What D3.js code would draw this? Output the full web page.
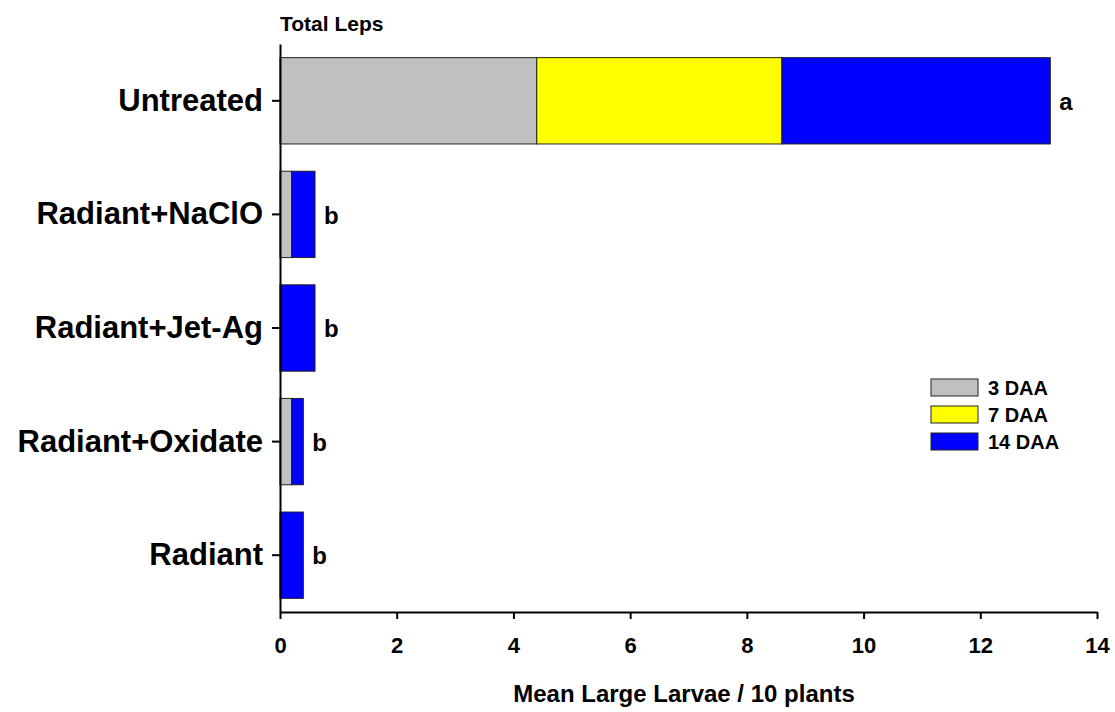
<!DOCTYPE html>
<html>
<head>
<meta charset="utf-8">
<script src="https://cdn.jsdelivr.net/npm/d3@7"></script>
<style>
  body { margin: 0; background: #fff; }
  text { font-family: Arial, "Liberation Sans", sans-serif; font-weight: bold; fill: #000; }
</style>
</head>
<body>
<div id="svg-container"></div>
<script>
// treatments, top to bottom
var treatments = ["Untreated", "Radiant+NaClO", "Radiant+Jet-Ag", "Radiant+Oxidate", "Radiant"]
var seriesNames = ["3 DAA", "7 DAA", "14 DAA"]
var seriesColors = ["#c0c0c0", "#ffff00", "#0000ff"]
// mean large larvae / 10 plants per sampling date
var daa3 = [4.4, 0.2, 0, 0.2, 0]
var daa7 = [4.2, 0, 0, 0, 0]
var daa14 = [4.6, 0.4, 0.6, 0.2, 0.4]
var letters = ["a", "b", "b", "b", "b"]
var xTicks = [0, 2, 4, 6, 8, 10, 12, 14]

draw_svg()

function draw_svg() {
    width = 1115
    height = 712

    svg = d3.select("#svg-container")
        .append("svg")
        .attr("width", width)
        .attr("height", height)

    x = d3.scaleLinear().domain([0, 14]).range([280, 1097])
    y = d3.scaleBand()
        .domain(treatments)
        .range([44, 612])
        .paddingInner(0.24)
        .paddingOuter(0.12)

    rows = treatments.map((t, i) => ({ name: t, "3 DAA": daa3[i], "7 DAA": daa7[i], "14 DAA": daa14[i] }))
    stack = d3.stack().keys(seriesNames)(rows)

    // stacked bars
    layers = svg.selectAll(".layer")
        .data(stack)
        .enter()
        .append("g")
        .attr("class", "layer")
        .attr("fill", (d, i) => seriesColors[i])

    layers.selectAll("rect")
        .data((d) => d.filter((e) => e[1] - e[0] > 0))
        .enter()
        .append("rect")
        .attr("x", (e) => x(e[0]))
        .attr("y", (e) => y(e.data.name))
        .attr("width", (e) => x(e[1]) - x(e[0]))
        .attr("height", y.bandwidth())
        .attr("stroke", "#222")
        .attr("stroke-width", 1)

    // significance letters
    svg.selectAll(".letter")
        .data(treatments)
        .enter()
        .append("text")
        .attr("class", "letter")
        .attr("x", (t, i) => x(daa3[i] + daa7[i] + daa14[i]) + 9)
        .attr("y", (t) => y(t) + y.bandwidth() / 2)
        .attr("dy", "0.38em")
        .attr("font-size", "24px")
        .text((t, i) => letters[i])

    // x axis
    xAxis = svg.append("g")
        .attr("transform", "translate(0,612)")
        .call(d3.axisBottom(x).tickValues(xTicks).tickSize(7).tickPadding(18).tickSizeOuter(0))
    xAxis.select(".domain").attr("stroke", "#000").attr("stroke-width", 2)
    xAxis.selectAll(".tick line").attr("stroke-width", 2)
    xAxis.selectAll("text").attr("font-size", "22px").attr("font-family", null)

    // y axis
    yAxis = svg.append("g")
        .attr("transform", "translate(280,0)")
        .call(d3.axisLeft(y).tickSize(8).tickPadding(9).tickSizeOuter(0))
    yAxis.select(".domain").attr("stroke", "#000").attr("stroke-width", 2)
    yAxis.selectAll(".tick line").attr("stroke-width", 2)
    yAxis.selectAll("text").attr("font-size", "31px").attr("font-family", null)

    // titles
    svg.append("text")
        .attr("x", 280)
        .attr("y", 31)
        .attr("font-size", "21px")
        .text("Total Leps")

    svg.append("text")
        .attr("x", 684)
        .attr("y", 702)
        .attr("text-anchor", "middle")
        .attr("font-size", "24px")
        .text("Mean Large Larvae / 10 plants")

    // legend
    legend = svg.selectAll(".legend")
        .data(seriesNames)
        .enter()
        .append("g")
        .attr("class", "legend")
        .attr("transform", (d, i) => "translate(931," + (379 + i * 27) + ")")

    legend.append("rect")
        .attr("width", 47)
        .attr("height", 17)
        .attr("fill", (d, i) => seriesColors[i])
        .attr("stroke", "#222")
        .attr("stroke-width", 1)

    legend.append("text")
        .attr("x", 57)
        .attr("y", 15.5)
        .attr("font-size", "20px")
        .text((d) => d)
}
</script>
</body>
</html>
